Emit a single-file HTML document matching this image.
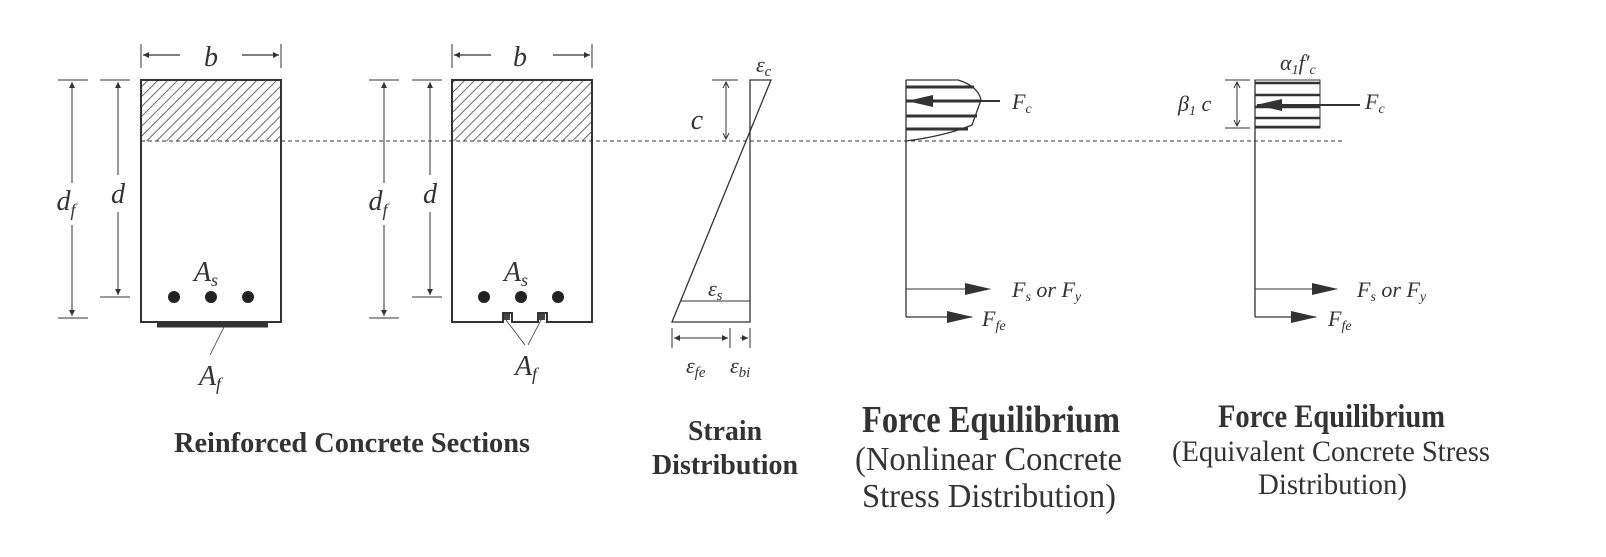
<!DOCTYPE html>
<html><head><meta charset="utf-8"><style>
html,body{margin:0;padding:0;background:#fff}
svg{display:block}
text{font-family:"Liberation Serif",serif;fill:#333}
.it{font-style:italic}
.b{font-weight:bold}
</style></head><body>
<svg width="1606" height="557" viewBox="0 0 1606 557">
<defs>
<pattern id="hatch" width="7" height="7" patternUnits="userSpaceOnUse" patternTransform="rotate(45)">
<line x1="0" y1="0" x2="0" y2="7" stroke="#444" stroke-width="1.6"/>
</pattern>
<marker id="as" markerWidth="6" markerHeight="6" refX="6" refY="3" orient="auto" markerUnits="userSpaceOnUse"><path d="M0,0 L6,3 L0,6 z" fill="#333"/></marker>
<marker id="arb" markerWidth="26" markerHeight="12" refX="25" refY="6" orient="auto" markerUnits="userSpaceOnUse"><path d="M0,0 L26,6 L0,12 z" fill="#333"/></marker>
</defs>
<g stroke="#333" fill="none" stroke-width="1.3">
<line x1="141" y1="141" x2="1345" y2="141" stroke-dasharray="4,3" stroke-width="1"/>

<g>
<rect x="141" y="80" width="140" height="61" fill="url(#hatch)" stroke="none"/>
<rect x="141" y="80" width="140" height="242" stroke-width="2"/>
<line x1="157" y1="325" x2="268" y2="325" stroke-width="5"/>
<line x1="225" y1="325" x2="210" y2="355" stroke-width="0.8"/>
<line x1="141" y1="44" x2="141" y2="68" stroke-width="1"/><line x1="281" y1="44" x2="281" y2="68" stroke-width="1"/>
<line x1="180" y1="55" x2="143" y2="55" marker-end="url(#as)"/><line x1="242" y1="55" x2="279" y2="55" marker-end="url(#as)"/>
<line x1="100" y1="80" x2="130" y2="80" stroke-width="1"/><line x1="100" y1="297" x2="130" y2="297" stroke-width="1"/>
<line x1="58" y1="80" x2="88" y2="80" stroke-width="1"/><line x1="58" y1="318" x2="88" y2="318" stroke-width="1"/>
<line x1="118" y1="175" x2="118" y2="82" marker-end="url(#as)" stroke-width="1"/><line x1="118" y1="212" x2="118" y2="295" marker-end="url(#as)" stroke-width="1"/>
<line x1="72" y1="183" x2="72" y2="82" marker-end="url(#as)" stroke-width="1"/><line x1="72" y1="225" x2="72" y2="316" marker-end="url(#as)" stroke-width="1"/>
</g>
<g fill="#222" stroke="none"><circle cx="174" cy="297" r="6"/><circle cx="211" cy="297" r="6"/><circle cx="248" cy="297" r="6"/>
<circle cx="484" cy="297" r="6"/><circle cx="521" cy="297" r="6"/><circle cx="558" cy="297" r="6"/></g>

<g>
<rect x="452" y="80" width="140" height="61" fill="url(#hatch)" stroke="none"/>
<path d="M452,80 H592 V322 H547 V313 H538 V322 H512 V313 H503 V322 H452 Z" stroke-width="2"/>
<rect x="504" y="314" width="6" height="6" fill="#444" stroke="none"/><rect x="539" y="314" width="6" height="6" fill="#444" stroke="none"/>
<line x1="506" y1="320" x2="525" y2="345" stroke-width="0.8"/><line x1="541" y1="320" x2="528" y2="345" stroke-width="0.8"/>
<line x1="452" y1="44" x2="452" y2="68" stroke-width="1"/><line x1="592" y1="44" x2="592" y2="68" stroke-width="1"/>
<line x1="491" y1="55" x2="454" y2="55" marker-end="url(#as)"/><line x1="553" y1="55" x2="590" y2="55" marker-end="url(#as)"/>
<line x1="412" y1="80" x2="442" y2="80" stroke-width="1"/><line x1="412" y1="297" x2="442" y2="297" stroke-width="1"/>
<line x1="369" y1="80" x2="399" y2="80" stroke-width="1"/><line x1="369" y1="318" x2="399" y2="318" stroke-width="1"/>
<line x1="430" y1="175" x2="430" y2="82" marker-end="url(#as)" stroke-width="1"/><line x1="430" y1="212" x2="430" y2="295" marker-end="url(#as)" stroke-width="1"/>
<line x1="384" y1="183" x2="384" y2="82" marker-end="url(#as)" stroke-width="1"/><line x1="384" y1="225" x2="384" y2="316" marker-end="url(#as)" stroke-width="1"/>
</g>

<g>
<path d="M750,80 H771 L672,322 H750 Z" stroke-width="1.3"/>
<line x1="680" y1="301" x2="750" y2="301" stroke-width="1"/>
<line x1="712" y1="80" x2="738" y2="80" stroke-width="1"/>
<line x1="726" y1="82" x2="726" y2="139" stroke-width="1"/>
<path d="M723,88 L726,82 L729,88 M723,133 L726,139 L729,133" stroke-width="1"/>
<line x1="672" y1="328" x2="672" y2="348" stroke-width="1"/><line x1="730" y1="328" x2="730" y2="348" stroke-width="1"/><line x1="750" y1="328" x2="750" y2="348" stroke-width="1"/>
<line x1="700" y1="338" x2="674" y2="338" marker-end="url(#as)" stroke-width="1"/><line x1="700" y1="338" x2="728" y2="338" marker-end="url(#as)" stroke-width="1"/>
<line x1="740" y1="338" x2="748" y2="338" marker-end="url(#as)" stroke-width="1"/>
</g>

<g>
<path d="M906,80 H958 Q978,86 981,100 L972,125 Q945,136 906,141" stroke-width="1.3"/>
<line x1="906" y1="80" x2="906" y2="317"/>
<g stroke-width="3"><line x1="906" y1="87" x2="974" y2="87"/><line x1="906" y1="101" x2="980" y2="101"/><line x1="906" y1="116" x2="977" y2="116"/><line x1="906" y1="129" x2="968" y2="129"/></g>
<line x1="1000" y1="101" x2="908" y2="101" stroke-width="2" marker-end="url(#arb)"/>
<line x1="906" y1="289" x2="990" y2="289" stroke-width="1" marker-end="url(#arb)"/>
<line x1="906" y1="317" x2="972" y2="317" stroke-width="1.3" marker-end="url(#arb)"/>
</g>

<g>
<rect x="1255" y="80" width="65" height="48" stroke-width="1"/>
<line x1="1255" y1="80" x2="1255" y2="317"/>
<g stroke-width="2.5"><line x1="1255" y1="83" x2="1320" y2="83"/><line x1="1255" y1="95" x2="1320" y2="95"/><line x1="1255" y1="107" x2="1320" y2="107"/><line x1="1255" y1="118" x2="1320" y2="118"/><line x1="1255" y1="127" x2="1320" y2="127"/></g>
<line x1="1360" y1="105" x2="1257" y2="105" stroke-width="2" marker-end="url(#arb)"/>
<line x1="1225" y1="80" x2="1250" y2="80" stroke-width="1"/><line x1="1225" y1="128" x2="1250" y2="128" stroke-width="1"/>
<line x1="1237" y1="82" x2="1237" y2="126" stroke-width="1"/>
<path d="M1234,88 L1237,82 L1240,88 M1234,120 L1237,126 L1240,120" stroke-width="1"/>
<line x1="1255" y1="289" x2="1337" y2="289" stroke-width="1" marker-end="url(#arb)"/>
<line x1="1255" y1="317" x2="1316" y2="317" stroke-width="1.3" marker-end="url(#arb)"/>
</g>
</g>

<g class="it" font-size="28">
<text x="211" y="66" text-anchor="middle">b</text>
<text x="520" y="66" text-anchor="middle">b</text>
<text x="118" y="203" text-anchor="middle">d</text>
<text x="430" y="203" text-anchor="middle">d</text>
<text x="66" y="210" text-anchor="middle">d<tspan font-size="18" dy="6">f</tspan></text>
<text x="378" y="210" text-anchor="middle">d<tspan font-size="18" dy="6">f</tspan></text>
<text x="206" y="281" text-anchor="middle">A<tspan font-size="18" dy="5">s</tspan></text>
<text x="516" y="281" text-anchor="middle">A<tspan font-size="18" dy="5">s</tspan></text>
<text x="210" y="385" text-anchor="middle">A<tspan font-size="18" dy="5">f</tspan></text>
<text x="526" y="375" text-anchor="middle">A<tspan font-size="18" dy="5">f</tspan></text>
<text x="697" y="129" text-anchor="middle">c</text>
</g>
<g class="it" font-size="22">
<text x="756" y="72">ε<tspan font-size="15" dy="4">c</tspan></text>
<text x="708" y="296">ε<tspan font-size="15" dy="4">s</tspan></text>
<text x="686" y="373">ε<tspan font-size="15" dy="4">fe</tspan></text>
<text x="730" y="373">ε<tspan font-size="15" dy="4">bi</tspan></text>
<text x="1012" y="109">F<tspan font-size="14" dy="4">c</tspan></text>
<text x="1012" y="297">F<tspan font-size="14" dy="4">s</tspan><tspan dy="-4"> or F</tspan><tspan font-size="14" dy="4">y</tspan></text>
<text x="982" y="326">F<tspan font-size="14" dy="4">fe</tspan></text>
<text x="1280" y="70">α<tspan font-size="14" dy="4">1</tspan><tspan dy="-4">f′</tspan><tspan font-size="14" dy="4">c</tspan></text>
<text x="1178" y="111">β<tspan font-size="14" dy="4">1</tspan><tspan dy="-4"> c</tspan></text>
<text x="1365" y="109">F<tspan font-size="14" dy="4">c</tspan></text>
<text x="1357" y="297">F<tspan font-size="14" dy="4">s</tspan><tspan dy="-4"> or F</tspan><tspan font-size="14" dy="4">y</tspan></text>
<text x="1328" y="326">F<tspan font-size="14" dy="4">fe</tspan></text>
</g>

<text class="b" x="174" y="452" font-size="29" textLength="356" lengthAdjust="spacingAndGlyphs">Reinforced Concrete Sections</text>
<text class="b" x="688" y="440" font-size="29" textLength="74" lengthAdjust="spacingAndGlyphs">Strain</text>
<text class="b" x="652" y="474" font-size="29" textLength="146" lengthAdjust="spacingAndGlyphs">Distribution</text>
<text class="b" x="862" y="432" font-size="38" textLength="258" lengthAdjust="spacingAndGlyphs">Force Equilibrium</text>
<text x="855" y="470" font-size="34" textLength="267" lengthAdjust="spacingAndGlyphs">(Nonlinear Concrete</text>
<text x="862" y="507" font-size="34" textLength="254" lengthAdjust="spacingAndGlyphs">Stress Distribution)</text>
<text class="b" x="1218" y="427" font-size="33" textLength="227" lengthAdjust="spacingAndGlyphs">Force Equilibrium</text>
<text x="1172" y="461" font-size="30" textLength="318" lengthAdjust="spacingAndGlyphs">(Equivalent Concrete Stress</text>
<text x="1258" y="494" font-size="30" textLength="149" lengthAdjust="spacingAndGlyphs">Distribution)</text>
</svg>
</body></html>
